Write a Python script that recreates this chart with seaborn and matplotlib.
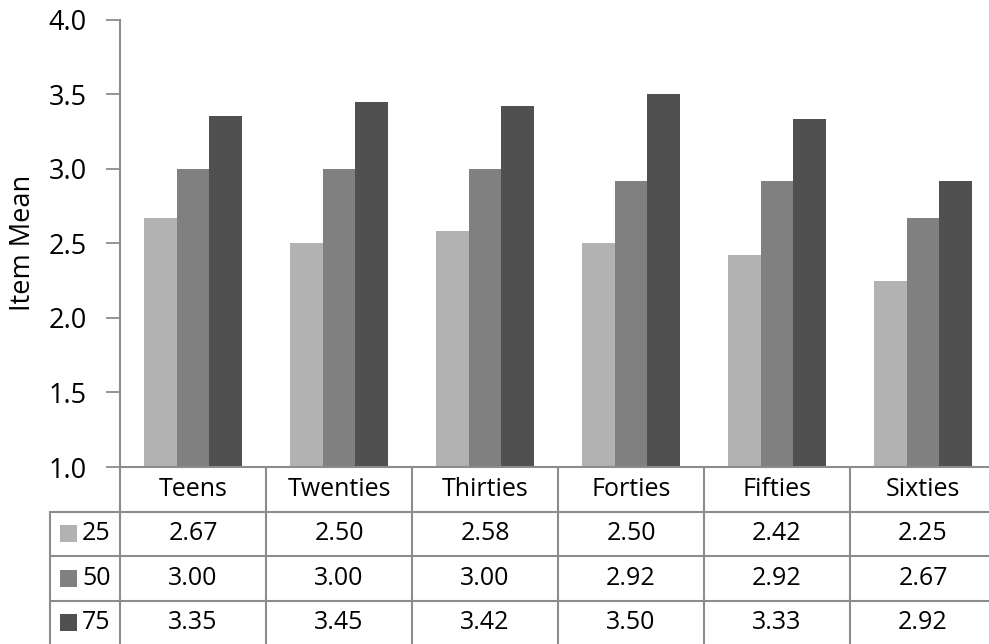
import matplotlib
matplotlib.use("Agg")
import matplotlib.pyplot as plt
from matplotlib.transforms import blended_transform_factory
from matplotlib.patches import Rectangle
import seaborn as sns
import pandas as pd

# Item means by age group, one list per percentile level
age_groups = ["Teens", "Twenties", "Thirties", "Forties", "Fifties", "Sixties"]
levels = ["25", "50", "75"]
p25 = [2.67, 2.50, 2.58, 2.50, 2.42, 2.25]
p50 = [3.00, 3.00, 3.00, 2.92, 2.92, 2.67]
p75 = [3.35, 3.45, 3.42, 3.50, 3.33, 2.92]
y_ticks = [1.0, 1.5, 2.0, 2.5, 3.0, 3.5, 4.0]

series = {"25": p25, "50": p50, "75": p75}
df = pd.DataFrame(
    [(g, lvl, series[lvl][i]) for lvl in levels for i, g in enumerate(age_groups)],
    columns=["group", "level", "mean"],
)
colors = {"25": "#b2b2b2", "50": "#808080", "75": "#505050"}
grid_col = "#8c8c8c"

sns.set_theme(style="white")
plt.rcParams["font.family"] = ["Open Sans", "DejaVu Sans"]

W, H = 989, 644
fig = plt.figure(figsize=(W / 100, H / 100), dpi=100)
# plot area in pixels: left 120, right 996, top 19.5, bottom 467
left, right, top, bottom = 120, 996, 19.5, 467
ax = fig.add_axes([left / W, 1 - bottom / H, (right - left) / W, (bottom - top) / H])

sns.barplot(data=df, x="group", y="mean", hue="level", order=age_groups,
            hue_order=levels, palette=colors, width=0.665, saturation=1,
            linewidth=0, legend=False, ax=ax)

ax.set_ylim(y_ticks[0], y_ticks[-1])
ax.set_xlim(-0.5, len(age_groups) - 0.5)
ax.set_yticks(y_ticks)
ax.set_yticklabels([f"{t:.1f}" for t in y_ticks], fontsize=19.5, color="black")
ax.tick_params(axis="y", length=10, width=1.3, color=grid_col, pad=14, left=True)
ax.tick_params(axis="x", length=0, labelbottom=False)
ax.set_xlabel("")
ax.set_ylabel("Item Mean", fontsize=19.5, labelpad=8, color="black")
for s in ["top", "right"]:
    ax.spines[s].set_visible(False)
ax.spines["left"].set_color(grid_col)
ax.spines["left"].set_linewidth(1.5)
ax.spines["bottom"].set_color(grid_col)
ax.spines["bottom"].set_linewidth(1.5)

# Data table under the plot: x follows category positions, y in axes units
tr = blended_transform_factory(ax.transData, ax.transAxes)
row_h = 44.5 / (bottom - top)
label_left = -0.5 - 70 / ((right - left) / len(age_groups))
n_rows = len(levels)
y_bottom = -row_h * (n_rows + 1) - 0.05
line_kw = dict(color=grid_col, lw=1.5, transform=tr, clip_on=False)

# horizontal rules
for r in range(1, n_rows + 1):
    ax.plot([label_left, len(age_groups) - 0.5], [-row_h * r, -row_h * r], **line_kw)
# vertical rules
ax.plot([label_left, label_left], [-row_h, y_bottom], **line_kw)
for i in range(len(age_groups)):
    ax.plot([i - 0.5, i - 0.5], [0, y_bottom], **line_kw)

# header row with the group names
for i, g in enumerate(age_groups):
    ax.text(i, -row_h * 0.5, g, transform=tr, ha="center", va="center",
            fontsize=18, color="black")

# value rows with a colour key in the row label cell
key_w = 0.115
for r, lvl in enumerate(levels):
    yc = -row_h * (r + 1.5)
    ax.add_patch(Rectangle((label_left + 0.07, yc - 0.019), key_w, 0.038,
                           facecolor=colors[lvl], edgecolor="none",
                           transform=tr, clip_on=False))
    ax.text(label_left + 0.22, yc, lvl, transform=tr, ha="left", va="center",
            fontsize=18, color="black")
    for i, v in enumerate(series[lvl]):
        ax.text(i, yc, f"{v:.2f}", transform=tr, ha="center", va="center",
                fontsize=18, color="black")

fig.savefig("out.png", dpi=100)
